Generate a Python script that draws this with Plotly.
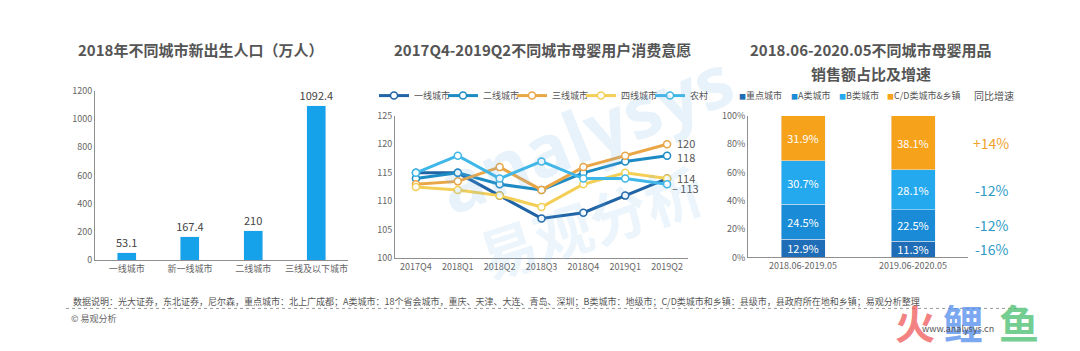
import plotly.graph_objects as go

# ---------------- data ----------------
birth_cities = ["一线城市", "新一线城市", "二线城市", "三线及以下城市"]
birth_values = [53.1, 167.4, 210, 1092.4]

quarters = ["2017Q4", "2018Q1", "2018Q2", "2018Q3", "2018Q4", "2019Q1", "2019Q2"]
series_names = ["一线城市", "二线城市", "三线城市", "四线城市", "农村"]
tier1 = [115, 115, 111, 107, 108, 111, 114]
tier2 = [114, 115, 113, 112, 115, 117, 118]
tier3 = [113, 113.5, 116, 112, 116, 118, 120]
tier4 = [112.5, 112, 111, 109, 113, 115, 114]
rural = [115, 118, 114, 117, 114, 114, 113]

periods = ["2018.06-2019.05", "2019.06-2020.05"]
seg_names = ["重点城市", "A类城市", "B类城市", "C/D类城市&乡镇"]
seg_key = [12.9, 11.3]
seg_a = [24.5, 22.5]
seg_b = [30.7, 28.1]
seg_cd = [31.9, 38.1]
growth = ["-16%", "-12%", "-12%", "+14%"]  # key, A, B, C/D

# ---------------- styles ----------------
W, H = 1080, 351
FONT = "Noto Sans CJK SC"
BAR_BLUE = "#16A2EA"
line_colors = ["#2064A6", "#1C8BC4", "#E9A647", "#F3CF57", "#3FB7E8"]
seg_colors = ["#1F6DB6", "#1A8BD6", "#24A8EE", "#F7A21B"]
AX = "#8f8f8f"
TICK = dict(family=FONT, size=9, color="#666")

def px(x):
    return x / W

def py(y):
    return 1 - y / H

fig = go.Figure()

# ---- left: bar chart ----
fig.add_trace(go.Bar(
    x=birth_cities, y=birth_values, xaxis="x", yaxis="y",
    marker=dict(color=BAR_BLUE), width=0.3,
    text=[f"{v:g}" for v in birth_values], textposition="outside", constraintext="none",
    textfont=dict(family=FONT, size=11, color="#444"),
    cliponaxis=False, showlegend=False))

# ---- middle: lines ----
for name, vals, col in zip(series_names, [tier1, tier2, tier3, tier4, rural], line_colors):
    fig.add_trace(go.Scatter(
        x=quarters, y=vals, xaxis="x2", yaxis="y2", name=name,
        mode="lines+markers",
        line=dict(color=col, width=3),
        marker=dict(symbol="circle", size=7, color="white", line=dict(color=col, width=1.5)),
        cliponaxis=False, legend="legend"))

# ---- right: stacked bars ----
for name, vals, col in zip(seg_names, [seg_key, seg_a, seg_b, seg_cd], seg_colors):
    fig.add_trace(go.Bar(
        x=periods, y=vals, xaxis="x3", yaxis="y3", name=name,
        marker=dict(color=col), width=0.4,
        text=[f"{v:.1f}%" for v in vals], textposition="inside", insidetextanchor="middle",
        constraintext="none",
        textfont=dict(family=FONT, size=11, color="white"),
        showlegend=False))

annotations = []

# titles
title_font = dict(family=FONT, size=15, color="#555", weight="bold")
annotations += [
    dict(text="2018年不同城市新出生人口（万人）", x=px(200), y=py(44), xref="paper", yref="paper",
         showarrow=False, font=title_font),
    dict(text="2017Q4-2019Q2不同城市母婴用户消费意愿", x=px(542), y=py(44), xref="paper", yref="paper",
         showarrow=False, font=title_font),
    dict(text="2018.06-2020.05不同城市母婴用品", x=px(871), y=py(44), xref="paper", yref="paper",
         showarrow=False, font=title_font),
    dict(text="销售额占比及增速", x=px(871), y=py(69), xref="paper", yref="paper",
         showarrow=False, font=title_font),
]

# end labels of middle chart
end_labels = [(tier3[-1], 1, 8, ""), (tier2[-1], -1, 8, ""), (tier4[-1], 1, 8, ""), (rural[-1], -4, 3, "– ")]
for v, ys, xs, pre in end_labels:
    annotations.append(dict(text=f"{pre}{v:g}", x=quarters[-1], y=v, xref="x2", yref="y2",
                            xanchor="left", xshift=xs, yshift=ys,
                            showarrow=False, font=dict(family=FONT, size=11, color="#555")))

# right legend (annotations)
leg_x = [737, 789, 837, 885]
for name, col, lx in zip(seg_names, seg_colors, leg_x):
    annotations.append(dict(text=f"<span style='color:{col};font-size:7px'>■</span>{name}",
                            x=px(lx), y=py(92), xref="paper", yref="paper", xanchor="left",
                            showarrow=False, font=dict(family=FONT, size=9, color="#555")))
annotations.append(dict(text="同比增速", x=px(972), y=py(92), xref="paper", yref="paper",
                        xanchor="left", showarrow=False, font=dict(family=FONT, size=10, color="#555")))

# growth labels aligned with second bar segment centres
cum = 0
for vals, g in zip([seg_key, seg_a, seg_b, seg_cd], growth):
    centre = cum + vals[1] / 2
    cum += vals[1]
    col = "#EFA32E" if g.startswith("+") else "#2E9BC6"
    annotations.append(dict(text=g, x=px(991), y=centre, xref="paper", yref="y3",
                            showarrow=False, font=dict(family=FONT, size=14, color=col)))

# footnote
annotations += [
    dict(text="数据说明：光大证券，东北证券，尼尔森，重点城市：北上广成都；A类城市：18个省会城市，重庆、天津、大连、青岛、深圳；"
              "B类城市：地级市；C/D类城市和乡镇：县级市，县政府所在地和乡镇；易观分析整理",
         x=px(71), y=py(306), xref="paper", yref="paper", xanchor="left",
         showarrow=False, font=dict(family=FONT, size=9, color="#555")),
    dict(text="© 易观分析", x=px(69), y=py(323), xref="paper", yref="paper", xanchor="left",
         showarrow=False, font=dict(family=FONT, size=9, color="#666")),
]

# watermarks
annotations += [
    dict(text="<b>analysys</b>", x=px(585), y=py(130), xref="paper", yref="paper", textangle=-22,
         showarrow=False, font=dict(family="Open Sans", size=72, color="rgba(110,175,225,0.16)")),
    dict(text="<b>易观分析</b>", x=px(590), y=py(222), xref="paper", yref="paper", textangle=-18,
         showarrow=False, font=dict(family=FONT, size=58, color="rgba(110,175,225,0.13)")),
    dict(text="<b>火</b>", x=px(915), y=py(327), xref="paper", yref="paper",
         showarrow=False, font=dict(family=FONT, size=40, color="rgba(240,90,90,0.75)")),
    dict(text="<b>鲤</b>", x=px(963), y=py(327), xref="paper", yref="paper",
         showarrow=False, font=dict(family=FONT, size=40, color="rgba(80,140,235,0.75)")),
    dict(text="<b>鱼</b>", x=px(1019), y=py(327), xref="paper", yref="paper",
         showarrow=False, font=dict(family=FONT, size=40, color="rgba(70,190,110,0.75)")),
    dict(text="www.analysys.cn", x=px(958), y=py(334), xref="paper", yref="paper",
         showarrow=False, font=dict(family=FONT, size=9, color="#555")),
]
for a in annotations:
    a.setdefault("xanchor", "center")
    a.setdefault("yanchor", "middle")

shapes = [dict(type="line", xref="paper", yref="paper", x0=px(66), x1=px(1020), y0=py(313), y1=py(313),
               line=dict(color="#999", width=1, dash="dot"))]

common_x = dict(showline=True, linecolor=AX, linewidth=1, ticks="", showgrid=False, zeroline=False,
                tickfont=TICK, fixedrange=True)
common_y = dict(showline=True, linecolor=AX, linewidth=1, ticks="", showgrid=False, zeroline=False,
                tickfont=TICK, fixedrange=True)

fig.update_layout(
    width=W, height=H, margin=dict(l=0, r=0, t=0, b=0),
    paper_bgcolor="white", plot_bgcolor="rgba(0,0,0,0)",
    font=dict(family=FONT),
    barmode="stack",
    xaxis=dict(common_x, domain=[px(95), px(348)], anchor="y", range=[-0.5, 3.5]),
    yaxis=dict(common_y, domain=[py(263), py(87)], anchor="x", range=[0, 1200], dtick=200),
    xaxis2=dict(common_x, domain=[px(395), px(688)], anchor="y2", range=[-0.5, 6.5]),
    yaxis2=dict(common_y, domain=[py(261), py(113)], anchor="x2", range=[100, 125], dtick=5),
    xaxis3=dict(common_x, domain=[px(748), px(968)], anchor="y3", range=[-0.5, 1.5]),
    yaxis3=dict(common_y, domain=[py(260), py(113)], anchor="x3", range=[0, 100], dtick=20,
                ticksuffix="%"),
    legend=dict(orientation="h", x=px(374), y=py(92), xanchor="left", yanchor="middle",
                font=dict(family=FONT, size=9, color="#555"), bgcolor="rgba(0,0,0,0)",
                traceorder="normal", itemwidth=30, entrywidth=24, entrywidthmode="pixels"),
    annotations=annotations,
    shapes=shapes,
)

fig.write_html("out.html")
